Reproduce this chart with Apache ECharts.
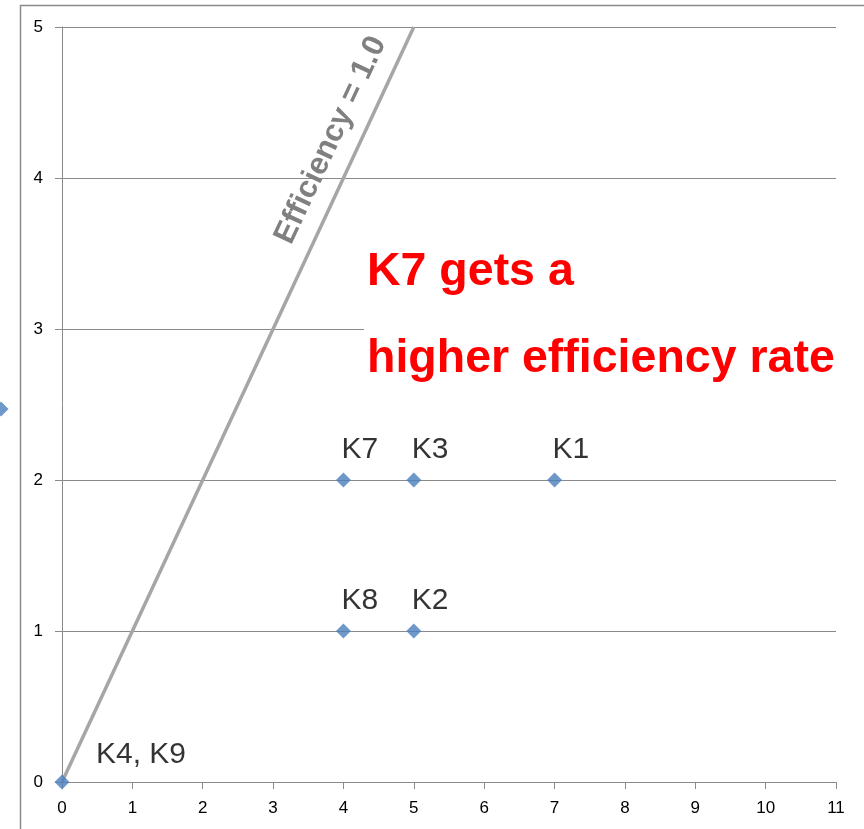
<!DOCTYPE html>
<html>
<head>
<meta charset="utf-8">
<script src="https://cdn.jsdelivr.net/npm/echarts@6/dist/echarts.min.js"></script>
<style>
  html, body { margin: 0; padding: 0; background: #fff; }
  #chart { width: 864px; height: 829px; }
</style>
</head>
<body>
<div id="chart"></div>
<script>
// Plant names and their (x, y) positions
const pointNames = ['K4, K9', 'K8', 'K2', 'K7', 'K3', 'K1'];
const pointX = [0, 4, 5, 4, 5, 7];
const pointY = [0, 1, 1, 2, 2, 2];

// Reference line where efficiency = 1.0 (y = x)
const refLineX = [0, 5];
const refLineY = [0, 5];
const refLineLabel = 'Efficiency = 1.0';
const refLabelAt = [3.82, 4.25];

// Axis ranges
const xMin = 0, xMax = 11, xStep = 1;
const yMin = 0, yMax = 5, yStep = 1;

const noteLines = ['K7 gets a', 'higher efficiency rate'];

const FONT = '"Liberation Sans", Arial, sans-serif';
const AXIS_GREY = '#8a8a8a';

const chart = echarts.init(document.getElementById('chart'), null, { renderer: 'canvas' });

const scatterData = pointNames.map((n, i) => {
  const item = { name: n, value: [pointX[i], pointY[i]] };
  if (n === 'K4, K9') {
    item.label = { distance: 5, offset: [34, 0] };
  }
  return item;
});

const option = {
  animation: false,
  backgroundColor: '#fff',
  grid: { left: 62, right: 28, top: 27, bottom: 47 },
  legend: {
    data: ['Plants'],
    left: -6.5,
    top: 401.5,
    padding: 0,
    itemWidth: 15,
    itemHeight: 15,
    formatter: () => '',
    textStyle: { fontSize: 1 }
  },
  xAxis: {
    type: 'value',
    min: xMin, max: xMax, interval: xStep,
    axisLine: { show: true, lineStyle: { color: AXIS_GREY, width: 1 } },
    axisTick: { show: true, length: 7, lineStyle: { color: AXIS_GREY } },
    splitLine: { show: false },
    axisLabel: { color: '#000', fontFamily: FONT, fontSize: 17, margin: 18 }
  },
  yAxis: {
    type: 'value',
    min: yMin, max: yMax, interval: yStep,
    axisLine: { show: true, lineStyle: { color: AXIS_GREY, width: 1 } },
    axisTick: { show: true, length: 7, lineStyle: { color: AXIS_GREY } },
    splitLine: { show: true, lineStyle: { color: AXIS_GREY, width: 1 } },
    axisLabel: { color: '#000', fontFamily: FONT, fontSize: 17, margin: 19 }
  },
  series: [
    {
      name: 'Efficiency',
      type: 'line',
      data: refLineX.map((x, i) => [x, refLineY[i]]),
      symbol: 'none',
      lineStyle: { color: '#a6a6a6', width: 3.5 },
      z: 2,
      markPoint: {
        symbol: 'circle',
        symbolSize: 1,
        itemStyle: { color: 'rgba(0,0,0,0)' },
        data: [{ coord: refLabelAt, value: refLineLabel }],
        label: {
          show: true,
          position: 'inside',
          formatter: refLineLabel,
          rotate: 65,
          color: '#808080',
          fontFamily: FONT,
          fontWeight: 'bold',
          fontSize: 31
        }
      }
    },
    {
      name: 'Plants',
      type: 'scatter',
      data: scatterData,
      symbol: 'diamond',
      symbolSize: 15,
      itemStyle: { color: '#4a7ebb' },
      z: 3,
      label: {
        show: true,
        position: 'top',
        align: 'left',
        verticalAlign: 'bottom',
        distance: 8,
        offset: [-2, 0],
        formatter: p => p.name,
        color: '#000',
        fontFamily: FONT,
        fontSize: 30,
        lineHeight: 30
      }
    }
  ],
  graphic: [
    {
      type: 'rect',
      silent: true,
      z: -10,
      shape: { x: 20.5, y: 5.5, width: 1000, height: 1000 },
      style: { fill: 'none', stroke: '#8a8a8a', lineWidth: 1.5 }
    },
    {
      type: 'text',
      silent: true,
      z: 100,
      x: 364,
      y: 229,
      style: {
        text: noteLines.join('\n'),
        fill: '#ff0000',
        font: 'bold 46.5px ' + FONT,
        lineHeight: 87,
        backgroundColor: '#fff',
        padding: [0, 6, 0, 3]
      }
    }
  ]
};

chart.setOption(option);
</script>
</body>
</html>
